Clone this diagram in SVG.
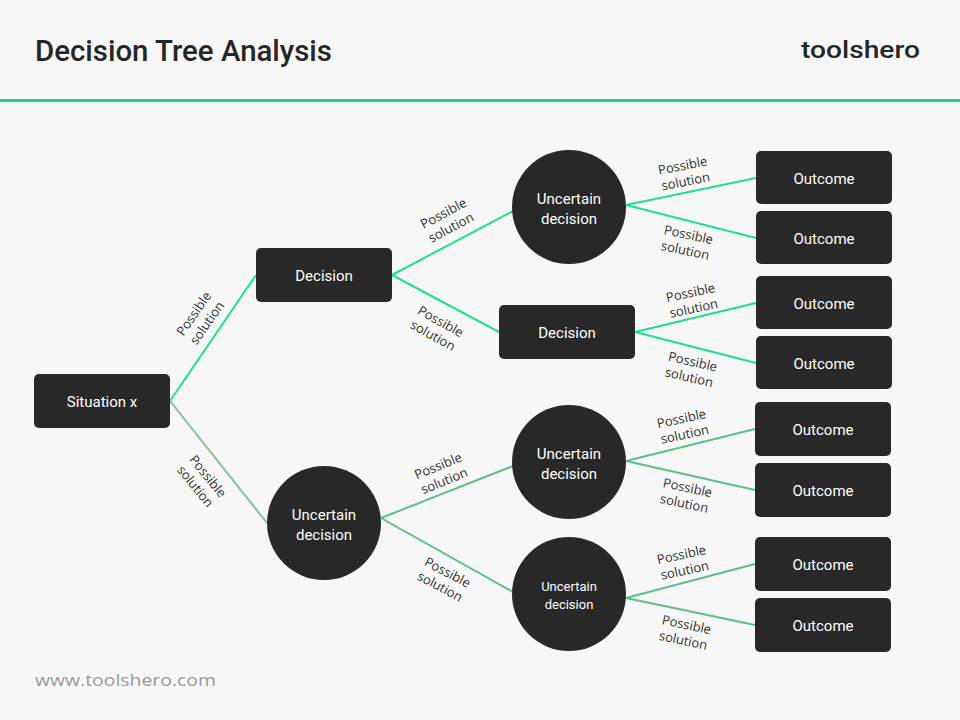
<svg xmlns="http://www.w3.org/2000/svg" width="960" height="720" viewBox="0 0 960 720">
<style>
.bg{fill:#f7f7f7}
.node{fill:#282828}
.nt{fill:#ffffff;font-family:Roboto,"Liberation Sans",sans-serif;font-size:15px;text-anchor:middle}
.lbl{fill:#333333;font-family:"Open Sans","Liberation Sans",sans-serif;font-size:13px;text-anchor:middle}
.top{stroke:#1fe08b;stroke-width:2;fill:none}
.low{stroke:#62bd8a;stroke-width:2;fill:none}
.mid{stroke:#8cbf9c;stroke-width:2;fill:none}
</style>
<rect class="bg" x="0" y="0" width="960" height="720"/>
<text x="35" y="61" font-family="Roboto,'Liberation Sans',sans-serif" font-size="29" font-weight="500" fill="#262626" textLength="297" lengthAdjust="spacingAndGlyphs">Decision Tree Analysis</text>
<text x="801" y="58" font-family="Roboto,'Liberation Sans',sans-serif" font-size="24" font-weight="500" fill="#262626" textLength="119" lengthAdjust="spacingAndGlyphs">toolshero</text>
<line x1="0" y1="100.5" x2="960" y2="100.5" stroke="#17d68a" stroke-width="3"/>
<text x="35" y="686" font-family="'Open Sans','Liberation Sans',sans-serif" font-size="17" fill="#9a9a9a" textLength="181" lengthAdjust="spacingAndGlyphs">www.toolshero.com</text>

<g id="connectors">
<line class="top" x1="170" y1="401" x2="256" y2="275"/>
<line class="mid" x1="170" y1="401" x2="267" y2="523"/>
<line class="top" x1="392" y1="275" x2="513" y2="211"/>
<line class="top" x1="392" y1="275" x2="499" y2="332"/>
<line class="top" x1="626" y1="205" x2="756" y2="178"/>
<line class="top" x1="626" y1="205" x2="756" y2="238"/>
<line class="top" x1="635" y1="332" x2="756" y2="303"/>
<line class="top" x1="635" y1="332" x2="756" y2="363"/>
<line class="low" x1="381" y1="518" x2="513" y2="466"/>
<line class="low" x1="381" y1="518" x2="513" y2="592"/>
<line class="low" x1="626" y1="461" x2="755" y2="429"/>
<line class="low" x1="626" y1="461" x2="755" y2="490"/>
<line class="low" x1="626" y1="598" x2="755" y2="564"/>
<line class="low" x1="626" y1="598" x2="755" y2="625"/>
</g>

<g id="labels">
<text class="lbl" transform="translate(200,318) rotate(-55)"><tspan x="0" y="-3">Possible</tspan><tspan x="0" y="13">solution</tspan></text>
<text class="lbl" transform="translate(202,481) rotate(51)"><tspan x="0" y="-3">Possible</tspan><tspan x="0" y="13">solution</tspan></text>
<text class="lbl" transform="translate(447,220) rotate(-28)"><tspan x="0" y="-3">Possible</tspan><tspan x="0" y="13">solution</tspan></text>
<text class="lbl" transform="translate(437,328) rotate(29)"><tspan x="0" y="-3">Possible</tspan><tspan x="0" y="13">solution</tspan></text>
<text class="lbl" transform="translate(684,173) rotate(-11)"><tspan x="0" y="-3">Possible</tspan><tspan x="0" y="13">solution</tspan></text>
<text class="lbl" transform="translate(687,242) rotate(12)"><tspan x="0" y="-3">Possible</tspan><tspan x="0" y="13">solution</tspan></text>
<text class="lbl" transform="translate(692,300) rotate(-12)"><tspan x="0" y="-3">Possible</tspan><tspan x="0" y="13">solution</tspan></text>
<text class="lbl" transform="translate(691,369) rotate(13)"><tspan x="0" y="-3">Possible</tspan><tspan x="0" y="13">solution</tspan></text>
<text class="lbl" transform="translate(441,473) rotate(-22)"><tspan x="0" y="-3">Possible</tspan><tspan x="0" y="13">solution</tspan></text>
<text class="lbl" transform="translate(444,579) rotate(28)"><tspan x="0" y="-3">Possible</tspan><tspan x="0" y="13">solution</tspan></text>
<text class="lbl" transform="translate(683,426) rotate(-12)"><tspan x="0" y="-3">Possible</tspan><tspan x="0" y="13">solution</tspan></text>
<text class="lbl" transform="translate(686,495) rotate(12)"><tspan x="0" y="-3">Possible</tspan><tspan x="0" y="13">solution</tspan></text>
<text class="lbl" transform="translate(683,562) rotate(-12)"><tspan x="0" y="-3">Possible</tspan><tspan x="0" y="13">solution</tspan></text>
<text class="lbl" transform="translate(685,632) rotate(12)"><tspan x="0" y="-3">Possible</tspan><tspan x="0" y="13">solution</tspan></text>
</g>

<g id="situation"><rect class="node" x="34" y="374" width="136" height="54" rx="5"/><text class="nt" x="102" y="407">Situation x</text></g>
<g id="decision1"><rect class="node" x="256" y="248" width="136" height="54" rx="5"/><text class="nt" x="324" y="281">Decision</text></g>
<g id="uncertain1"><circle class="node" cx="324" cy="523" r="57"/><text class="nt" x="324" y="520">Uncertain</text><text class="nt" x="324" y="540">decision</text></g>
<g id="uncertain2"><circle class="node" cx="569" cy="207" r="57"/><text class="nt" x="569" y="204">Uncertain</text><text class="nt" x="569" y="224">decision</text></g>
<g id="decision2"><rect class="node" x="499" y="305" width="136" height="54" rx="5"/><text class="nt" x="567" y="338">Decision</text></g>
<g id="uncertain3"><circle class="node" cx="569" cy="462" r="57"/><text class="nt" x="569" y="459">Uncertain</text><text class="nt" x="569" y="479">decision</text></g>
<g id="uncertain4"><circle class="node" cx="569" cy="594" r="57"/><text class="nt" x="569" y="591" style="font-size:13px">Uncertain</text><text class="nt" x="569" y="609" style="font-size:13px">decision</text></g>
<g id="outcome1"><rect class="node" x="756" y="151" width="136" height="53" rx="5"/><text class="nt" x="824" y="184">Outcome</text></g>
<g id="outcome2"><rect class="node" x="756" y="211" width="136" height="53" rx="5"/><text class="nt" x="824" y="244">Outcome</text></g>
<g id="outcome3"><rect class="node" x="756" y="276" width="136" height="53" rx="5"/><text class="nt" x="824" y="309">Outcome</text></g>
<g id="outcome4"><rect class="node" x="756" y="336" width="136" height="53" rx="5"/><text class="nt" x="824" y="369">Outcome</text></g>
<g id="outcome5"><rect class="node" x="755" y="402" width="136" height="54" rx="5"/><text class="nt" x="823" y="435">Outcome</text></g>
<g id="outcome6"><rect class="node" x="755" y="463" width="136" height="54" rx="5"/><text class="nt" x="823" y="496">Outcome</text></g>
<g id="outcome7"><rect class="node" x="755" y="537" width="136" height="54" rx="5"/><text class="nt" x="823" y="570">Outcome</text></g>
<g id="outcome8"><rect class="node" x="755" y="598" width="136" height="54" rx="5"/><text class="nt" x="823" y="631">Outcome</text></g>
</svg>
